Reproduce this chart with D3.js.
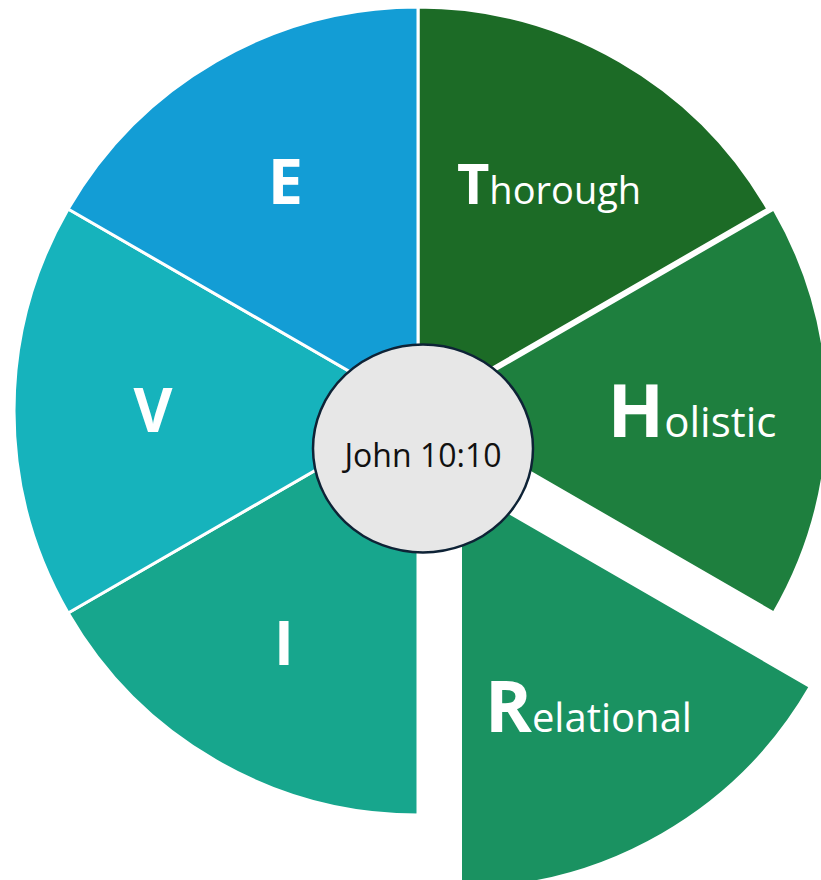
<!DOCTYPE html>
<html>
<head>
<meta charset="utf-8">
<script src="https://cdn.jsdelivr.net/npm/d3@7"></script>
<style>
  body { margin: 0; background: #fff; }
  svg { display: block; }
</style>
</head>
<body>
<div id="chart_div"></div>
<script>
// slices clockwise from 12 o'clock
var initials = ["T", "H", "R", "I", "V", "E"];
var rest = ["horough", "olistic", "elational", "", "", ""];
var values = [1, 1, 1, 1, 1, 1];
var explode = [0, 6, 85, 0, 0, 0];
var colors = ["#1c6b26", "#1e7f3e", "#1a9261", "#17a68d", "#16b3bc", "#139dd5"];
var capSize = [56, 74, 71, 60, 60, 63];
var restSize = [38, 42, 40, 40, 40, 40];
var labelR = [262, 268, 256, 268, 265, 265];
var centerText = "John 10:10";

var width = 821, height = 880,
    cx = 418, cy = 411,
    radius = 404;

var data = values.map(function(v, i) {
  return {value: v, initial: initials[i], rest: rest[i], color: colors[i],
          offset: explode[i], cap: capSize[i], small: restSize[i], lr: labelR[i]};
});

var svg = d3.select("#chart_div").append("svg")
    .attr("width", width)
    .attr("height", height);

var g = svg.append("g")
    .attr("transform", "translate(" + cx + "," + cy + ")");

var pie = d3.pie()
    .sort(null)
    .value(function(d) { return d.value; });

var arc = d3.arc()
    .innerRadius(0)
    .outerRadius(radius);

function shift(d) {
  var a = (d.startAngle + d.endAngle) / 2;
  return [Math.sin(a) * d.data.offset, -Math.cos(a) * d.data.offset];
}

var slices = g.selectAll(".slice")
    .data(pie(data))
    .enter().append("g")
    .attr("class", "slice")
    .attr("transform", function(d) {
      var s = shift(d);
      return "translate(" + s[0] + "," + s[1] + ")";
    });

slices.append("path")
    .attr("d", arc)
    .attr("fill", function(d) { return d.data.color; })
    .attr("stroke", "#fff")
    .attr("stroke-width", 3)
    .attr("stroke-linejoin", "round");

var labels = slices.append("text")
    .attr("transform", function(d) {
      var c = d3.arc().innerRadius(d.data.lr).outerRadius(d.data.lr).centroid(d);
      return "translate(" + c[0] + "," + (c[1] + d.data.cap * 0.357) + ")";
    })
    .attr("text-anchor", "middle")
    .attr("fill", "#fff")
    .style("font-family", "'Open Sans', 'Noto Sans', sans-serif");

labels.append("tspan")
    .attr("font-weight", "bold")
    .attr("font-size", function(d) { return d.data.cap + "px"; })
    .text(function(d) { return d.data.initial; });

labels.append("tspan")
    .attr("font-size", function(d) { return d.data.small + "px"; })
    .text(function(d) { return d.data.rest; });

// centre disc
svg.append("ellipse")
    .attr("cx", 423)
    .attr("cy", 448.5)
    .attr("rx", 110)
    .attr("ry", 104)
    .attr("fill", "#e7e7e7")
    .attr("stroke", "#0e2336")
    .attr("stroke-width", 2.5);

svg.append("text")
    .attr("x", 423)
    .attr("y", 467)
    .attr("text-anchor", "middle")
    .attr("font-size", "32px")
    .attr("fill", "#111")
    .style("font-family", "'Open Sans', 'Noto Sans', sans-serif")
    .text(centerText);
</script>
</body>
</html>
